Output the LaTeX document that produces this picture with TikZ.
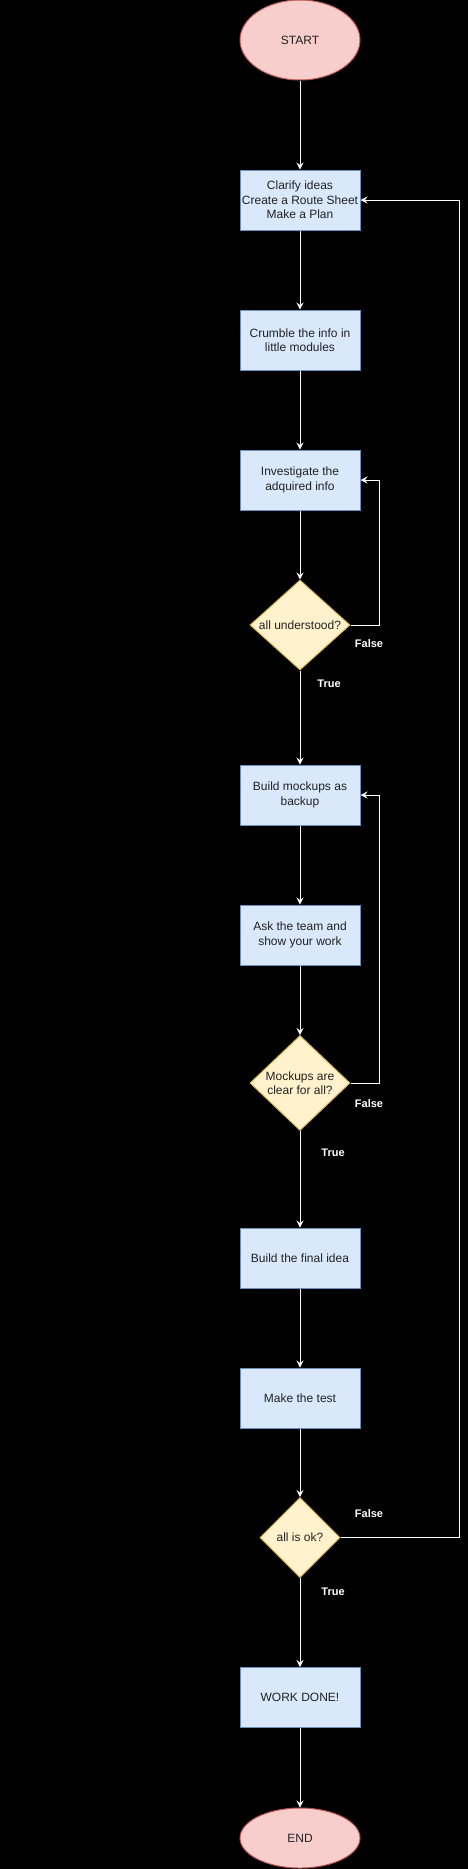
\documentclass[tikz,border=0pt]{standalone}
\usepackage{fontspec}
\setmainfont{Liberation Sans}
\usetikzlibrary{shapes.geometric,arrows.meta}
\definecolor{boxfill}{HTML}{DAE8FC}
\definecolor{boxline}{HTML}{6C8EBF}
\definecolor{diafill}{HTML}{FFF2CC}
\definecolor{dialine}{HTML}{D6B656}
\definecolor{ellfill}{HTML}{F8CECC}
\definecolor{ellline}{HTML}{B85450}
\definecolor{txtcol}{HTML}{222222}
\tikzset{
  base/.style={line width=1pt, inner sep=0pt, text=txtcol, align=center,
    font=\fontsize{12}{14.5}\selectfont},
  stepbox/.style={base, rectangle, draw=boxline, fill=boxfill, minimum width=120pt, minimum height=60pt},
  dia/.style={line width=1pt, inner sep=0pt, diamond, draw=dialine, fill=diafill},
  dtext/.style={text=txtcol, align=center, inner sep=0pt, font=\fontsize{12}{14.5}\selectfont},
  term/.style={base, ellipse, draw=ellline, fill=ellfill, minimum width=120pt},
  edge/.style={draw=white, line width=1pt, -{Stealth[length=7pt,width=7pt,inset=2.5pt]}},
  lbl/.style={text=white, inner sep=0pt, font=\bfseries\fontsize{11}{13}\selectfont}
}
\begin{document}
\begin{tikzpicture}[x=1pt,y=-1pt]
\useasboundingbox (0,0) rectangle (468,1869);
\fill[black] (0,0) rectangle (468,1869);

\node[term, minimum height=80pt] (start) at (300,40) {START};
\node[stepbox] (b1) at (300,200) {Clarify ideas\\Create a Route Sheet\\Make a Plan};
\node[stepbox] (b2) at (300,340) {Crumble the info in\\little modules};
\node[stepbox] (b3) at (300,480) {Investigate the\\adquired info};
\node[dia, minimum width=100pt, minimum height=90pt] (d1) at (300,625) {};
\node[dtext] (d1t) at (d1) {all understood?};
\node[stepbox] (b4) at (300,795) {Build mockups as\\backup};
\node[stepbox] (b5) at (300,935) {Ask the team and\\show your work};
\node[dia, minimum width=100pt, minimum height=95pt] (d2) at (300,1083) {};
\node[dtext] (d2t) at (d2) {Mockups are\\clear for all?};
\node[stepbox] (b6) at (300,1258) {Build the final idea};
\node[stepbox] (b7) at (300,1398) {Make the test};
\node[dia, minimum width=80pt, minimum height=80pt] (d3) at (300,1537.5) {};
\node[dtext] (d3t) at (d3) {all is ok?};
\node[stepbox] (b8) at (300,1697.5) {WORK DONE!};
\node[term, minimum height=60pt] (end) at (300,1838) {END};

\draw[edge] (start) -- (b1);
\draw[edge] (b1) -- (b2);
\draw[edge] (b2) -- (b3);
\draw[edge] (b3) -- (d1);
\draw[edge] (d1) -- (b4);
\draw[edge] (b4) -- (b5);
\draw[edge] (b5) -- (d2);
\draw[edge] (d2) -- (b6);
\draw[edge] (b6) -- (b7);
\draw[edge] (b7) -- (d3);
\draw[edge] (d3) -- (b8);
\draw[edge] (b8) -- (end);

\coordinate (r1) at (379,625);
\coordinate (r2) at (379,1083);
\coordinate (r3) at (459,1537.5);
\draw[edge] (d1.east) -- (r1) |- (b3.east);
\draw[edge] (d2.east) -- (r2) |- (b4.east);
\draw[edge] (d3.east) -- (r3) |- (b1.east);

\node[lbl] (f1) at (369,644) {False};
\node[lbl] (t1) at (329,684) {True};
\node[lbl] (f2) at (369,1104) {False};
\node[lbl] (t2) at (333,1153) {True};
\node[lbl] (f3) at (369,1514) {False};
\node[lbl] (t3) at (333,1592) {True};
\end{tikzpicture}
\end{document}
